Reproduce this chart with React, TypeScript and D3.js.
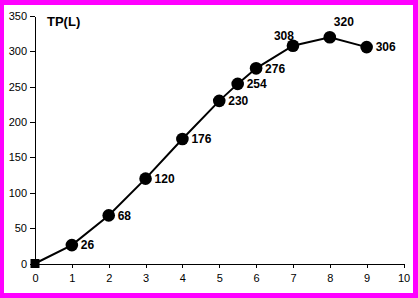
import React, { useEffect, useRef } from "react";
import * as d3 from "d3";

const xValues = [0, 1, 2, 3, 4, 5, 5.5, 6, 7, 8, 9];
const tpValues = [0, 26, 68, 120, 176, 230, 254, 276, 308, 320, 306];
const labelPlacement = ["none", "right", "right", "right", "right", "right", "right", "right", "aboveLeft", "above", "right"];
const xTicks = [0, 1, 2, 3, 4, 5, 6, 7, 8, 9, 10];
const yTicks = [0, 50, 100, 150, 200, 250, 300, 350];
const title = "TP(L)";

const W = 418;
const H = 298;

export default function App() {
  const ref = useRef<SVGSVGElement | null>(null);

  useEffect(() => {
    const svg = d3.select(ref.current);
    svg.selectAll("*").remove();

    svg.append("rect").attr("x", 0).attr("y", 0).attr("width", W).attr("height", H).attr("fill", "#FF00FF");
    svg.append("rect").attr("x", 4).attr("y", 5).attr("width", 409).attr("height", 288).attr("fill", "#FFFFFF");

    const x = d3.scaleLinear().domain([0, 10]).range([35, 403.5]);
    const y = d3.scaleLinear().domain([0, 350]).range([263.5, 16]);

    const font = "'Liberation Sans', Arial, sans-serif";

    const yAxis = svg
      .append("g")
      .attr("transform", `translate(${x(0)},0)`)
      .call(d3.axisLeft(y).tickValues(yTicks).tickSize(5).tickSizeOuter(0).tickPadding(3).tickFormat(d3.format("d")));
    const xAxis = svg
      .append("g")
      .attr("transform", `translate(0,${y(0)})`)
      .call(d3.axisBottom(x).tickValues(xTicks).tickSize(4).tickSizeOuter(0).tickPadding(7).tickFormat(d3.format("d")));

    [yAxis, xAxis].forEach((g) => {
      g.selectAll("path,line").attr("stroke", "#000").attr("stroke-width", 1).attr("shape-rendering", "crispEdges");
      g.selectAll("text").attr("fill", "#000").style("font-family", font).style("font-size", "11px");
    });

    svg
      .append("text")
      .attr("x", 47)
      .attr("y", 26)
      .style("font-family", font)
      .style("font-size", "13px")
      .style("font-weight", "bold")
      .attr("fill", "#000")
      .text(title);

    const pts = xValues.map((v, i) => ({ x: v, y: tpValues[i], pos: labelPlacement[i], i }));

    const line = d3
      .line<{ x: number; y: number }>()
      .x((d) => x(d.x))
      .y((d) => y(d.y))
      .curve(d3.curveLinear);

    svg.append("path").attr("d", line(pts) as string).attr("fill", "none").attr("stroke", "#000").attr("stroke-width", 2);

    svg
      .selectAll("path.marker")
      .data(pts)
      .enter()
      .append("path")
      .attr("class", "marker")
      .attr("transform", (d) => `translate(${x(d.x)},${y(d.y)})`)
      .attr("d", (d) =>
        d3.symbol().type(d.i === 0 ? d3.symbolSquare : d3.symbolCircle).size(d.i === 0 ? 81 : 125)() as string
      )
      .attr("fill", "#000");

    svg
      .selectAll("text.lbl")
      .data(pts.filter((d) => d.pos !== "none"))
      .enter()
      .append("text")
      .attr("class", "lbl")
      .attr("x", (d) => x(d.x) + (d.pos === "right" ? 9 : d.pos === "above" ? 4 : 1))
      .attr("y", (d) => y(d.y) + (d.pos === "right" ? 0 : d.pos === "above" ? -15 : -10))
      .attr("dy", "0.35em")
      .attr("text-anchor", (d) => (d.pos === "aboveLeft" ? "end" : "start"))
      .style("font-family", font)
      .style("font-size", "12px")
      .style("font-weight", "bold")
      .attr("fill", "#000")
      .text((d) => String(d.y));
  }, []);

  return (
    <div style={{ position: "fixed", left: 0, top: 0 }}>
      <svg ref={ref} width={W} height={H} style={{ display: "block" }} />
    </div>
  );
}
